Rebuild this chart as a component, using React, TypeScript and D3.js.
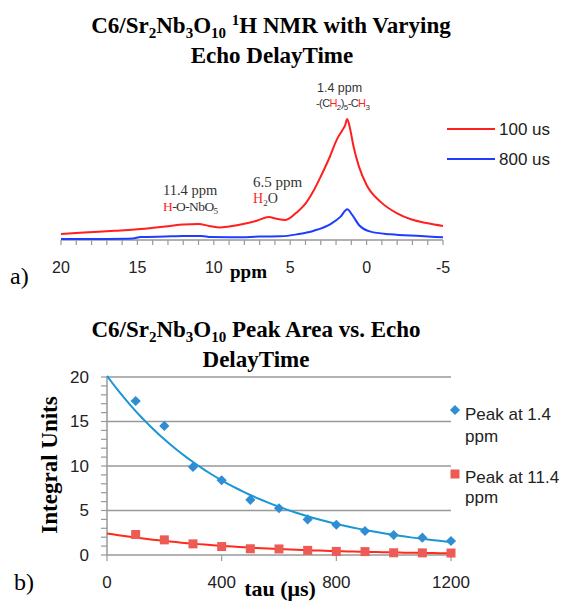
import * as d3 from "d3";

// spectrum traces: [ppm, relative intensity]
const spectrum100: [number, number][] = [
  [20, 5.0], [18.5, 6.2], [16.5, 7.6], [14.5, 9.3], [13, 11.3], [12, 12.9], [11, 13.2],
  [10.3, 11.6], [9.6, 10.3], [9.0, 11.2], [8.0, 13.4], [7.2, 15.9], [6.4, 19.0], [5.9, 17.6],
  [5.3, 16.6], [4.6, 22.5], [4.0, 30.0], [3.5, 40.0], [3.0, 52.5], [2.4, 69.0], [1.95, 83.0],
  [1.6, 90.5], [1.4, 95.0], [1.27, 100], [1.1, 93], [0.85, 77], [0.5, 60.6], [0.0, 45.5],
  [-0.9, 31.7], [-2.0, 22.0], [-2.9, 17.1], [-4.0, 13.8], [-5.0, 11.6],
];
const spectrum800: [number, number][] = [
  [20, 0.8], [17, 0.9], [15.3, 1.2], [14.8, 2.4], [12.8, 3.0], [12, 3.4], [10.8, 3.4],
  [10.2, 2.4], [8.5, 2.2], [7, 2.8], [5.64, 3.0], [4.54, 4.7], [3.45, 7.7], [2.36, 13.2],
  [1.7, 19.3], [1.27, 25.4], [0.94, 20.7], [0.5, 12.4], [-0.26, 6.9], [-1.57, 4.7],
  [-3.54, 3.3], [-5, 2.2],
];
const ppmTicks = [20, 15, 10, 5, 0, -5];

// peak areas vs echo delay
const tau = [100, 200, 300, 400, 500, 600, 700, 800, 900, 1000, 1100, 1200];
const peak14 = [17.3, 14.5, 9.9, 8.4, 6.2, 5.25, 4.0, 3.4, 2.7, 2.25, 1.95, 1.57];
const peak114 = [2.3, 1.7, 1.25, 0.95, 0.7, 0.68, 0.52, 0.4, 0.38, 0.25, 0.24, 0.22];
const integralTicks = [0, 5, 10, 15, 20];
const tauTicks = [0, 400, 800, 1200];

// excel style exponential trendline: ln(y) = ln(a) + b*x
function expFit(xs: number[], ys: number[]) {
  const ly = ys.map((v) => Math.log(v));
  const mx = d3.mean(xs)!;
  const my = d3.mean(ly)!;
  const b = d3.sum(xs, (x, i) => (x - mx) * (ly[i] - my)) / d3.sum(xs, (x) => (x - mx) ** 2);
  const a = Math.exp(my - b * mx);
  return (x: number) => a * Math.exp(b * x);
}

const SERIF = "'Liberation Serif', 'Times New Roman', serif";
const SANS = "'Liberation Sans', Arial, sans-serif";
const RED = "#ff1f1f";
const BLUE = "#1f3cff";
const DIAMOND_BLUE = "#2f8dd3";
const SQUARE_RED = "#ee5b55";

function Diamond({ cx, cy }: { cx: number; cy: number }) {
  return (
    <rect
      x={-3.6}
      y={-3.6}
      width={7.2}
      height={7.2}
      fill={DIAMOND_BLUE}
      transform={`translate(${cx},${cy}) rotate(45)`}
    />
  );
}

export default function App() {
  // top chart
  const xTop = d3.scaleLinear().domain([20, -5]).range([61, 443]);
  const yTop = d3.scaleLinear().domain([0, 100]).range([240, 119]);
  const specLine = d3
    .line<[number, number]>()
    .x((d) => xTop(d[0]))
    .y((d) => yTop(d[1]))
    .curve(d3.curveMonotoneX);
  const minorPpm = d3.range(-5, 21, 1);

  // bottom chart
  const x = d3.scaleLinear().domain([0, 1200]).range([107, 451]);
  const y = d3.scaleLinear().domain([0, 20]).range([555, 377]);
  const fitA = expFit(tau, peak14);
  const fitB = expFit(tau, peak114);
  const fitX = d3.range(0, 1201, 20);
  const fitLine = (f: (t: number) => number) =>
    d3
      .line<number>()
      .x((t) => x(t))
      .y((t) => y(f(t)))(fitX) || "";

  return (
    <svg
      width={565}
      height={601}
      style={{ position: "absolute", left: 0, top: 0, background: "#fff" }}
    >
      {/* ---- top chart ---- */}
      <text x={271} y={33} textAnchor="middle" fontFamily={SERIF} fontWeight="bold" fontSize={23}>
        C6/Sr<tspan fontSize={15} dy={5}>2</tspan>
        <tspan dy={-5}>Nb</tspan>
        <tspan fontSize={15} dy={5}>3</tspan>
        <tspan dy={-5}>O</tspan>
        <tspan fontSize={15} dy={5}>10</tspan>
        <tspan dy={-5}> </tspan>
        <tspan fontSize={15} dy={-8}>1</tspan>
        <tspan dy={8}>H NMR with Varying</tspan>
      </text>
      <text x={272} y={63} textAnchor="middle" fontFamily={SERIF} fontWeight="bold" fontSize={23}>
        Echo DelayTime
      </text>

      <line x1={xTop(20)} x2={xTop(-5)} y1={240} y2={240} stroke="#999" strokeWidth={1.5} />
      {minorPpm.map((p) => (
        <line key={p} x1={xTop(p)} x2={xTop(p)} y1={240} y2={245} stroke="#999" strokeWidth={1.2} />
      ))}
      {ppmTicks.map((p) => (
        <text key={p} x={xTop(p)} y={273} textAnchor="middle" fontFamily={SANS} fontSize={16} fill="#222">
          {p}
        </text>
      ))}
      <text x={230} y={278} fontFamily={SERIF} fontWeight="bold" fontSize={19}>
        ppm
      </text>
      <text x={10} y={284} fontFamily={SERIF} fontSize={24}>
        a)
      </text>

      <path d={specLine(spectrum800) || ""} fill="none" stroke={BLUE} strokeWidth={2} />
      <path d={specLine(spectrum100) || ""} fill="none" stroke={RED} strokeWidth={2} />

      {/* peak annotations */}
      <text x={317} y={92} fontFamily={SANS} fontSize={12.5} fill="#333">
        1.4 ppm
      </text>
      <text x={316} y={107} fontFamily={SANS} fontSize={11} fill="#333" letterSpacing={-0.6}>
        -(C<tspan fill={RED}>H</tspan>
        <tspan fontSize={8} dy={3}>2</tspan>
        <tspan dy={-3}>)</tspan>
        <tspan fontSize={8} dy={3}>5</tspan>
        <tspan dy={-3}>-C</tspan>
        <tspan fill={RED}>H</tspan>
        <tspan fontSize={8} dy={3}>3</tspan>
      </text>
      <text x={253} y={187} fontFamily={SERIF} fontSize={15} fill="#333">
        6.5 ppm
      </text>
      <text x={253} y={203} fontFamily={SERIF} fontSize={14} fill="#333">
        <tspan fill={RED}>H</tspan>
        <tspan fontSize={9} dy={3}>2</tspan>
        <tspan dy={-3}>O</tspan>
      </text>
      <text x={163} y={195} fontFamily={SERIF} fontSize={14.5} fill="#333">
        11.4 ppm
      </text>
      <text x={163} y={211} fontFamily={SERIF} fontSize={13.5} fill="#333" letterSpacing={-0.6}>
        <tspan fill={RED}>H</tspan>-O-NbO<tspan fontSize={9} dy={3}>5</tspan>
      </text>

      {/* legend top */}
      <line x1={447} x2={495} y1={129} y2={129} stroke={RED} strokeWidth={2} />
      <text x={499} y={135} fontFamily={SANS} fontSize={17} fill="#222">
        100 us
      </text>
      <line x1={447} x2={495} y1={159} y2={159} stroke={BLUE} strokeWidth={2} />
      <text x={499} y={165} fontFamily={SANS} fontSize={17} fill="#222">
        800 us
      </text>

      {/* ---- bottom chart ---- */}
      <text x={256} y={337} textAnchor="middle" fontFamily={SERIF} fontWeight="bold" fontSize={23}>
        C6/Sr<tspan fontSize={15} dy={5}>2</tspan>
        <tspan dy={-5}>Nb</tspan>
        <tspan fontSize={15} dy={5}>3</tspan>
        <tspan dy={-5}>O</tspan>
        <tspan fontSize={15} dy={5}>10</tspan>
        <tspan dy={-5}> Peak Area vs. Echo</tspan>
      </text>
      <text x={256} y={367} textAnchor="middle" fontFamily={SERIF} fontWeight="bold" fontSize={23}>
        DelayTime
      </text>

      {integralTicks.map((v) => (
        <g key={v}>
          <line x1={x(0)} x2={x(1200)} y1={y(v)} y2={y(v)} stroke="#999" strokeWidth={1.5} />
          <text x={89} y={y(v)} dy="0.35em" textAnchor="end" fontFamily={SANS} fontSize={17} fill="#222">
            {v}
          </text>
        </g>
      ))}
      <line x1={x(0)} x2={x(0)} y1={y(20)} y2={y(0)} stroke="#999" strokeWidth={1.5} />
      {d3.range(0, 21, 1).map((v) => (
        <line key={v} x1={x(0) - 6} x2={x(0)} y1={y(v)} y2={y(v)} stroke="#999" strokeWidth={1.2} />
      ))}
      {tauTicks.map((t) => (
        <g key={t}>
          <line x1={x(t)} x2={x(t)} y1={y(0)} y2={y(0) + 6} stroke="#999" strokeWidth={1.2} />
          <text x={x(t)} y={588} textAnchor="middle" fontFamily={SANS} fontSize={17} fill="#222">
            {t}
          </text>
        </g>
      ))}
      <text x={280} y={596} textAnchor="middle" fontFamily={SERIF} fontWeight="bold" fontSize={22}>
        tau (μs)
      </text>
      <text
        transform="translate(57,465) rotate(-90)"
        textAnchor="middle"
        fontFamily={SERIF}
        fontWeight="bold"
        fontSize={23}
      >
        Integral Units
      </text>
      <text x={14} y={590} fontFamily={SERIF} fontSize={24}>
        b)
      </text>

      <path d={fitLine(fitB)} fill="none" stroke="#ff2a1a" strokeWidth={2} />
      <path d={fitLine(fitA)} fill="none" stroke="#1a96d6" strokeWidth={2} />
      {tau.map((t, i) => (
        <rect
          key={"r" + t}
          x={x(t) - 4.5}
          y={y(peak114[i]) - 4.5}
          width={9}
          height={9}
          fill={SQUARE_RED}
        />
      ))}
      {tau.map((t, i) => (
        <Diamond key={"b" + t} cx={x(t)} cy={y(peak14[i])} />
      ))}

      {/* legend bottom */}
      <Diamond cx={455} cy={410} />
      <text x={465} y={420} fontFamily={SANS} fontSize={17} fill="#222">
        Peak at 1.4
      </text>
      <text x={465} y={442} fontFamily={SANS} fontSize={17} fill="#222">
        ppm
      </text>
      <rect x={450.5} y={469.5} width={9} height={9} fill={SQUARE_RED} />
      <text x={465} y={483} fontFamily={SANS} fontSize={17} fill="#222">
        Peak at 11.4
      </text>
      <text x={465} y={503} fontFamily={SANS} fontSize={17} fill="#222">
        ppm
      </text>
    </svg>
  );
}
